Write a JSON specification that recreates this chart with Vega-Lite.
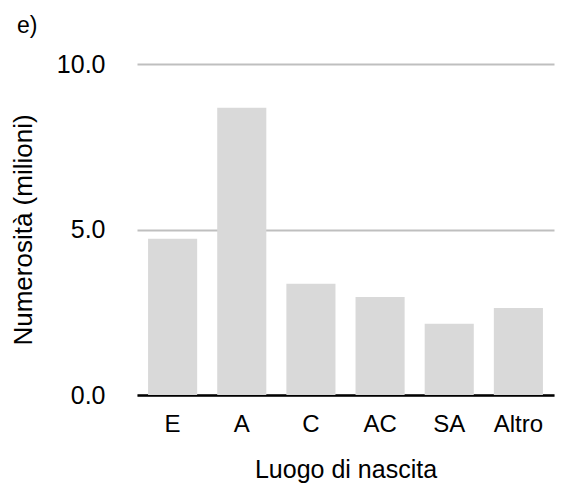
{
  "$schema": "https://vega.github.io/schema/vega-lite/v6.json",
  "width": 417,
  "height": 331,
  "autosize": {"type": "none"},
  "padding": {"left": 137, "top": 64, "right": 7, "bottom": 88},
  "background": "white",
  "title": {"text": "e)", "anchor": "start", "frame": "group", "dx": -120, "offset": 14, "fontSize": 23, "font": "Liberation Sans", "fontWeight": "normal", "color": "black"},
  "config": {
    "view": {"stroke": null},
    "font": "Liberation Sans"
  },
  "data": {
    "values": [
      {"luogo": "E", "n": 4.72},
      {"luogo": "A", "n": 8.68},
      {"luogo": "C", "n": 3.36},
      {"luogo": "AC", "n": 2.96},
      {"luogo": "SA", "n": 2.15},
      {"luogo": "Altro", "n": 2.63}
    ]
  },
  "mark": {"type": "bar", "color": "#d9d9d9"},
  "encoding": {
    "x": {
      "field": "luogo", "type": "nominal", "sort": null,
      "scale": {"paddingInner": 0.29, "paddingOuter": 0.16},
      "axis": {
        "title": "Luogo di nascita", "labelAngle": 0, "ticks": false,
        "domainColor": "black", "domainWidth": 2.5,
        "labelFontSize": 24, "labelColor": "black", "labelPadding": 17,
        "titleFontSize": 25, "titleFontWeight": "normal", "titleColor": "black", "titlePadding": 21
      }
    },
    "y": {
      "field": "n", "type": "quantitative",
      "scale": {"domain": [0, 10], "nice": false},
      "axis": {
        "title": "Numerosità (milioni)", "values": [0, 5, 10], "format": ".1f",
        "ticks": false, "domain": false,
        "gridColor": "#bfbfbf", "gridWidth": 2,
        "labelFontSize": 25, "labelColor": "black", "labelPadding": 32,
        "titleFontSize": 26, "titleFontWeight": "normal", "titleColor": "black", "titlePadding": 20
      }
    }
  }
}
